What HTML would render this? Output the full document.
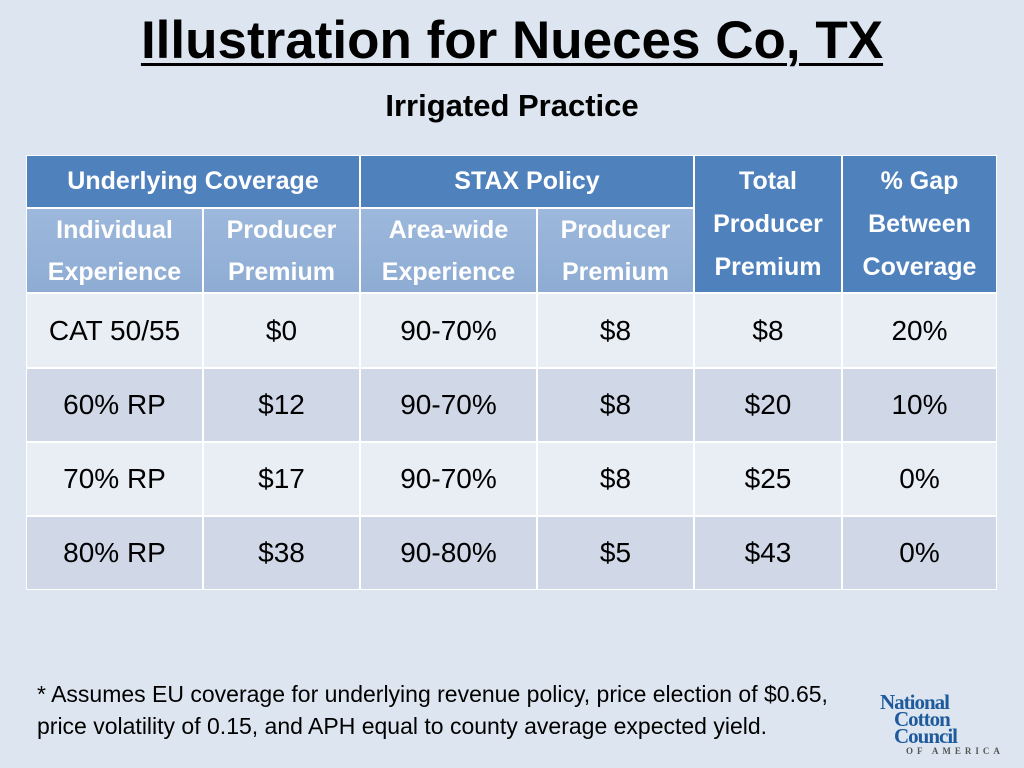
<!DOCTYPE html>
<html><head><meta charset="utf-8"><style>
body{margin:0;width:1024px;height:768px;background:#dde6f0;font-family:"Liberation Sans",sans-serif;position:relative;overflow:hidden}
.t{position:absolute;left:0;width:1024px;text-align:center}
.c{position:absolute;display:flex;align-items:center;justify-content:center;text-align:center;box-sizing:border-box}
.h1{background:#4f81bd;color:#fff;font-weight:bold;font-size:25px}
.h2{background:linear-gradient(#9db8dc,#8eacd3);color:#fff;font-weight:bold;font-size:25px;line-height:42px}
.d{font-size:28px;color:#000}
.r1{background:#e9edf4}.r2{background:#d0d8e8}
#tbl{position:absolute;left:26px;top:155px;width:971px;height:435px;background:#fff}
</style></head><body>
<div class="t" style="top:10px;font-size:53px;font-weight:bold;text-decoration:underline;text-decoration-thickness:3px;text-underline-offset:5px">Illustration for Nueces Co, TX</div>
<div class="t" style="top:88px;font-size:31px;font-weight:bold">Irrigated Practice</div>
<div id="tbl"></div>
<div style="position:absolute;left:37px;top:678px;font-size:23px;line-height:32px">* Assumes EU coverage for underlying revenue policy, price election of $0.65,<br>price volatility of 0.15, and APH equal to county average expected yield.</div>
<div style="position:absolute;left:880px;top:694px;color:#1f5b9c;font-family:'Liberation Serif',serif;font-weight:bold;font-size:21px;line-height:17px;letter-spacing:-1px">
<div>National</div><div style="padding-left:14px">Cotton</div><div style="padding-left:14px">Council</div><div style="font-size:9px;letter-spacing:4px;color:#555;padding-left:26px;line-height:12px">OF AMERICA</div></div>
<script>
const xs=[26,203,360,537,694,842,997];
const ys=[155,208,293,368,442,516,590];
const tbl=document.getElementById('tbl');
function cell(x0,x1,y0,y1,cls,html,name){
 const d=document.createElement('div');
 d.className='c '+cls;
 d.style.left=(x0-26+1)+'px';d.style.top=(y0-155+1)+'px';
 d.style.width=(x1-x0-2)+'px';d.style.height=(y1-y0-2)+'px';
 d.innerHTML=html;
 
 
 tbl.appendChild(d);
}
cell(xs[0],xs[2],ys[0],ys[1],'h1','Underlying Coverage','header-underlying-coverage');
cell(xs[2],xs[4],ys[0],ys[1],'h1','STAX Policy','header-stax-policy');
cell(xs[4],xs[5],ys[0],ys[2],'h1','<div style="line-height:43px">Total<br>Producer<br>Premium</div>','header-total-premium');
cell(xs[5],xs[6],ys[0],ys[2],'h1','<div style="line-height:43px">% Gap<br>Between<br>Coverage</div>','header-gap');
const sub=['Individual<br>Experience','Producer<br>Premium','Area-wide<br>Experience','Producer<br>Premium'];
sub.forEach((s,i)=>cell(xs[i],xs[i+1],ys[1],ys[2],'h2',s,'subheader-'+i));
const rows=[['CAT 50/55','$0','90-70%','$8','$8','20%'],['60% RP','$12','90-70%','$8','$20','10%'],['70% RP','$17','90-70%','$8','$25','0%'],['80% RP','$38','90-80%','$5','$43','0%']];
rows.forEach((r,ri)=>r.forEach((v,ci)=>cell(xs[ci],xs[ci+1],ys[ri+2],ys[ri+3],'d '+(ri%2?'r2':'r1'),v,'cell-r'+ri+'-c'+ci)));
</script>
</body></html>
